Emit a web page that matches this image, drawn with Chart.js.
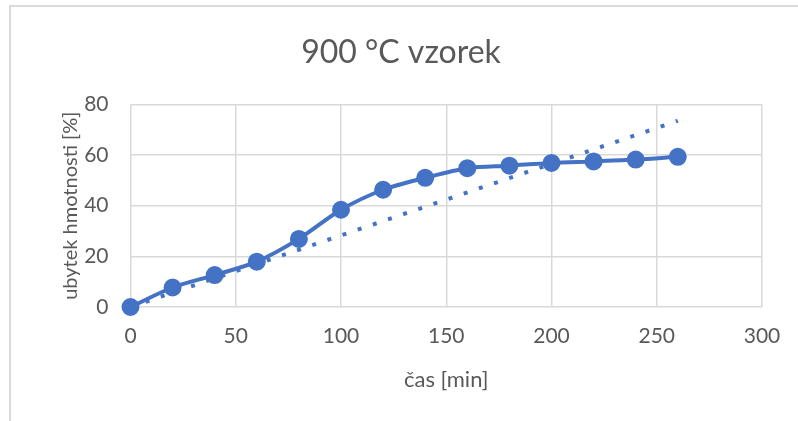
<!DOCTYPE html>
<html>
<head>
<meta charset="utf-8">
<script src="https://cdn.jsdelivr.net/npm/chart.js@4"></script>
<style>
  body { margin: 0; background: #fff; }
  canvas { display: block; }
</style>
</head>
<body>
<canvas id="chart" width="798" height="421"></canvas>
<script>
// data
const casMin = [0, 20, 40, 60, 80, 100, 120, 140, 160, 180, 200, 220, 240, 260];
const ubytek = [0, 7.7, 12.6, 17.9, 26.9, 38.4, 46.3, 51, 54.8, 55.8, 56.9, 57.5, 58.2, 59.3];
const xTicks = [0, 50, 100, 150, 200, 250, 300];
const yTicks = [0, 20, 40, 60, 80];

// linear trendline through the origin (least squares), like Excel's
let sxy = 0, sxx = 0;
casMin.forEach((x, i) => { sxy += x * ubytek[i]; sxx += x * x; });
const slope = sxy / sxx;
const trendX = [casMin[0], casMin[casMin.length - 1]];

const blue = '#4472C4';
const grey = '#595959';
const gridGrey = '#d9d9d9';

Chart.defaults.font.family = 'Lato';
Chart.defaults.color = grey;

// outer frame of the excel chart
const frame = {
  id: 'frame',
  beforeDraw(chart) {
    const c = chart.ctx;
    c.save();
    c.fillStyle = '#fff';
    c.fillRect(0, 0, chart.width, chart.height);
    c.strokeStyle = gridGrey;
    c.lineWidth = 2;
    c.beginPath();
    c.moveTo(10, chart.height);
    c.lineTo(10, 6);
    c.lineTo(chart.width, 6);
    c.stroke();
    c.restore();
  }
};

new Chart(document.getElementById('chart').getContext('2d'), {
  type: 'scatter',
  data: {
    datasets: [
      {
        label: 'vzorek',
        data: casMin.map((x, i) => ({ x, y: ubytek[i] })),
        showLine: true,
        clip: false,
        borderColor: blue,
        backgroundColor: blue,
        borderWidth: 4,
        pointRadius: 7,
        pointHoverRadius: 7,
        tension: 0.3,
        order: 2
      },
      {
        label: 'trend',
        data: trendX.map(x => ({ x, y: slope * x })),
        showLine: true,
        clip: false,
        borderColor: blue,
        borderWidth: 4,
        borderDash: [4, 12],
        pointRadius: 0,
        order: 1
      }
    ]
  },
  options: {
    responsive: false,
    animation: false,
    layout: { padding: { left: 40, right: 36, bottom: 28, top: 0 } },
    plugins: {
      legend: { display: false },
      tooltip: { enabled: false },
      title: {
        display: true,
        text: '900 °C vzorek',
        color: grey,
        font: { size: 32, weight: 'normal' },
        padding: { top: 33, bottom: 33 }
      }
    },
    scales: {
      x: {
        type: 'linear',
        min: 0,
        max: 300,
        afterBuildTicks: s => { s.ticks = xTicks.map(v => ({ value: v })); },
        afterFit: s => { s.height = 86; },
        grid: { color: gridGrey, lineWidth: 1.5, drawTicks: false },
        border: { display: false },
        ticks: { padding: 17, font: { size: 21 }, color: grey },
        title: {
          display: true,
          text: 'čas [min]',
          color: grey,
          font: { size: 22 },
          padding: { top: 16, bottom: 0 }
        }
      },
      y: {
        min: 0,
        max: 80,
        afterBuildTicks: s => { s.ticks = yTicks.map(v => ({ value: v })); },
        afterFit: s => { s.width = 90.5; },
        grid: { color: gridGrey, lineWidth: 1.5, drawTicks: false },
        border: { display: false },
        ticks: { padding: 22, font: { size: 21 }, color: grey },
        title: {
          display: true,
          text: 'ubytek hmotnosti [%]',
          color: grey,
          font: { size: 20 },
          padding: { top: 19, bottom: 4 }
        }
      }
    }
  },
  plugins: [frame]
});
</script>
</body>
</html>
